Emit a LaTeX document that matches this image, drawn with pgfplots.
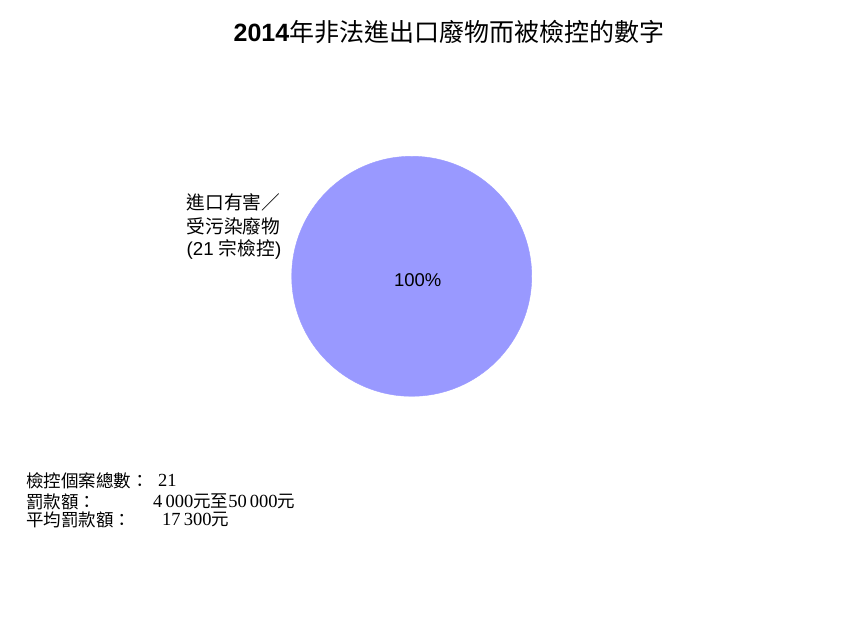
\documentclass[border=0pt]{standalone}
\usepackage{fontspec}
\setmainfont{Liberation Sans}
\newfontfamily\cjk{Noto Sans CJK TC}
\newfontfamily\serif{Liberation Serif}
\usepackage{pgfplots}
\pgfplotsset{compat=1.18}
\definecolor{slice}{HTML}{9999FF}

\begin{document}
\begin{tikzpicture}[x=1bp,y=1bp]
    % canvas of the reference size, y measured from the top
    \path[use as bounding box] (0,0) rectangle (842,624);

    \begin{axis}[
        at={(411.7bp,347.7bp)},
        anchor=center,
        scale only axis,
        width=240bp,
        height=240bp,
        xmin=-1, xmax=1,
        ymin=-1, ymax=1,
        hide axis,
        clip=false,
        point meta=explicit,
        /pgf/number format/assume math mode=true,
        nodes near coords={\pgfmathprintnumber{\pgfplotspointmeta}\%},
        every node near coord/.append style={
            anchor=center, xshift=6bp, yshift=-4bp,
            font=\fontsize{18.5bp}{20bp}\selectfont, text=black}
    ]
        % single slice: 21 cases, 100%
        \addplot[only marks, mark=*, mark size=120bp,
                 mark options={fill=slice, draw=slice}]
            coordinates {(0,0) [100]};
    \end{axis}

    % title
    \node[anchor=center] at (449,592)
        {\fontsize{25bp}{28bp}\selectfont\textbf{2014}{\cjk 年非法進出口廢物而被檢控的數字}};

    % slice label
    \begin{scope}[every node/.style={anchor=west, inner sep=0pt,
                  font=\fontsize{18.7bp}{21bp}\selectfont}]
        \node at (186.5,422) {\cjk 進口有害／};
        \node at (186.5,398) {\cjk 受污染廢物};
        \node at (186.5,374) {(21 {\cjk 宗檢控})};
    \end{scope}

    % notes below the chart
    \begin{scope}[every node/.style={anchor=west, inner sep=0pt,
                  font=\fontsize{17.5bp}{19bp}\selectfont}]
        \node at (26,143.5) {\cjk 檢控個案總數：};
        \node at (158,143.5) {\serif\fontsize{18.5bp}{19bp}\selectfont 21};
        \node at (26,122.5) {\cjk 罰款額：};
        \node at (153,122.5) {\serif\fontsize{18.5bp}{19bp}\selectfont 4\,000{\cjk\fontsize{17.5bp}{19bp}\selectfont 元至}50\,000{\cjk\fontsize{17.5bp}{19bp}\selectfont 元}};
        \node at (26,104) {\cjk 平均罰款額：};
        \node at (162,104) {\serif\fontsize{18.5bp}{19bp}\selectfont 17\,300{\cjk\fontsize{17.5bp}{19bp}\selectfont 元}};
    \end{scope}
\end{tikzpicture}
\end{document}
